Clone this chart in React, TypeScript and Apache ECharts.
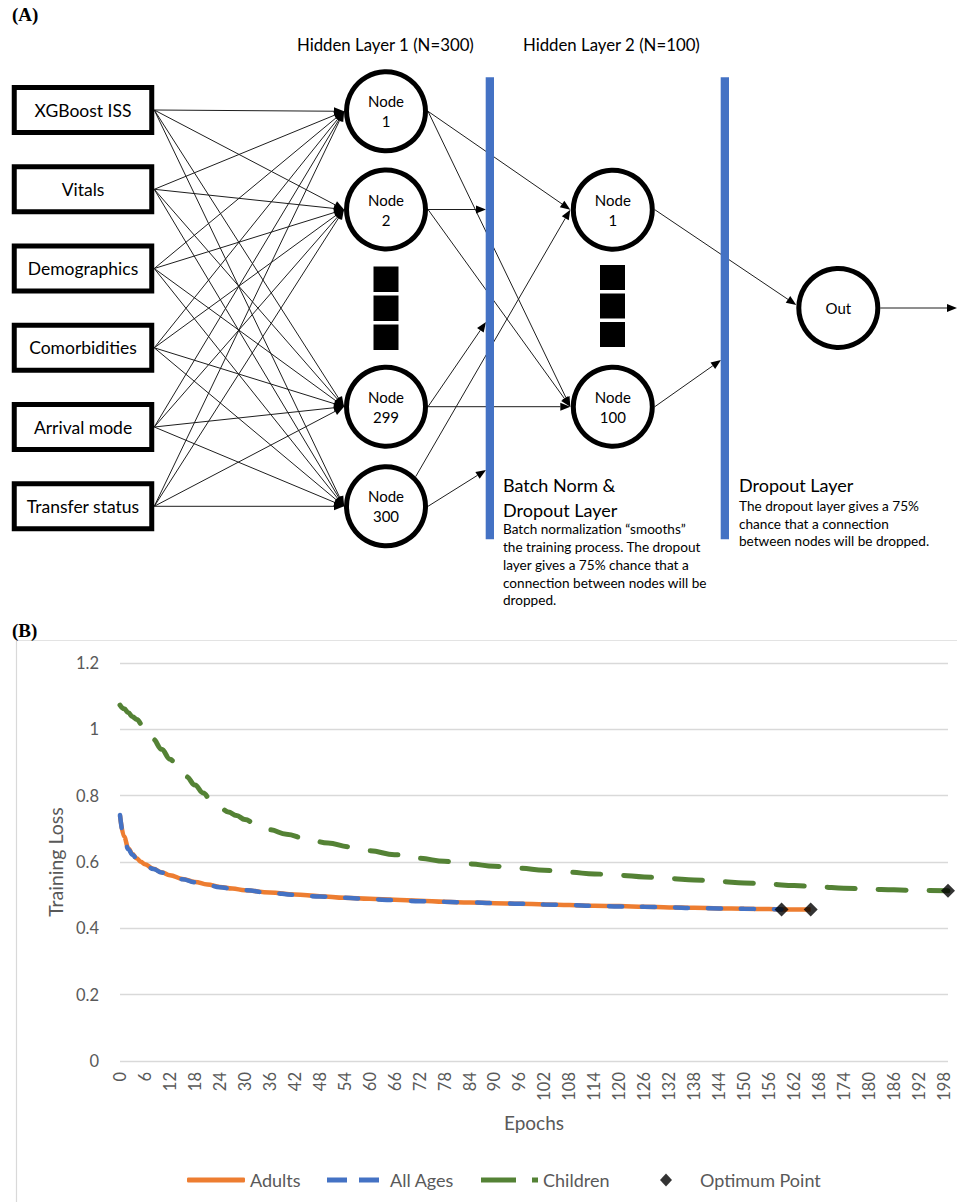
import React, { useEffect, useRef } from "react";
import * as echarts from "echarts";

// ---------------- DATA (panel B) ----------------
const epochCategories: string[] = Array.from({ length: 200 }, (_, i) => String(i));

const adultsEpochs = [0, 1, 2, 3, 4, 5, 6, 8, 10, 12, 15, 18, 21, 24, 27, 30, 36, 42, 48, 54, 60, 66, 72, 78, 84, 90, 96, 102, 108, 114, 120, 126, 132, 138, 144, 150, 156, 159, 162, 166];
const adultsLoss = [0.740, 0.676, 0.641, 0.624, 0.611, 0.601, 0.593, 0.580, 0.569, 0.560, 0.549, 0.540, 0.532, 0.525, 0.520, 0.515, 0.508, 0.502, 0.497, 0.492, 0.489, 0.486, 0.483, 0.480, 0.478, 0.476, 0.474, 0.472, 0.470, 0.468, 0.467, 0.465, 0.463, 0.462, 0.460, 0.459, 0.458, 0.457, 0.457, 0.457];

const allAgesEpochs = [0, 1, 2, 3, 4, 5, 6, 8, 10, 12, 15, 18, 21, 24, 27, 30, 36, 42, 48, 54, 60, 66, 72, 78, 84, 90, 96, 102, 108, 114, 120, 126, 132, 138, 144, 150, 156, 159];
const allAgesLoss = [0.742, 0.672, 0.638, 0.622, 0.610, 0.600, 0.592, 0.579, 0.568, 0.559, 0.548, 0.539, 0.531, 0.524, 0.519, 0.515, 0.507, 0.501, 0.496, 0.492, 0.488, 0.485, 0.482, 0.480, 0.478, 0.476, 0.474, 0.472, 0.470, 0.468, 0.466, 0.465, 0.463, 0.461, 0.460, 0.459, 0.458, 0.457];

const childrenEpochs = [0, 1, 2, 3, 4, 6, 8, 10, 12, 14, 16, 18, 20, 22, 24, 26, 28, 30, 33, 36, 40, 45, 50, 55, 60, 66, 72, 78, 84, 90, 96, 102, 108, 114, 120, 126, 132, 138, 144, 150, 156, 162, 168, 174, 180, 186, 192, 199];
const childrenLoss = [1.073, 1.062, 1.050, 1.038, 1.030, 1.000, 0.970, 0.940, 0.910, 0.884, 0.857, 0.832, 0.808, 0.783, 0.765, 0.751, 0.740, 0.728, 0.711, 0.697, 0.684, 0.669, 0.657, 0.646, 0.634, 0.622, 0.611, 0.602, 0.594, 0.587, 0.581, 0.575, 0.569, 0.564, 0.560, 0.555, 0.550, 0.546, 0.541, 0.537, 0.533, 0.529, 0.525, 0.521, 0.518, 0.516, 0.514, 0.513];

const optimumEpochs = [159, 166, 199];
const optimumLoss = [0.457, 0.457, 0.513];

const seriesNames = ["Adults", "All Ages", "Children", "Optimum Point"];

// ---------------- DIAGRAM CONTENT (panel A) ----------------
const inputLabels = ["XGBoost ISS", "Vitals", "Demographics", "Comorbidities", "Arrival mode", "Transfer status"];
const hidden1Labels = ["Node\n1", "Node\n2", "Node\n299", "Node\n300"];
const hidden2Labels = ["Node\n1", "Node\n100"];
const layerTitles = ["Hidden Layer 1 (N=300)", "Hidden Layer 2 (N=100)"];
const batchTitle = "Batch Norm &\nDropout Layer";
const batchText = "Batch normalization \u201csmooths\u201d\nthe training process. The dropout\nlayer gives a 75% chance that a\nconnection between nodes will be\ndropped.";
const dropTitle = "Dropout Layer";
const dropText = "The dropout layer gives a 75%\nchance that a connection\nbetween nodes will be dropped.";

const FONT = "Lato, 'Noto Sans', sans-serif";
const SERIF = "'Liberation Serif', 'DejaVu Serif', serif";

function txt(x: number, y: number, text: string, size: number, o: any = {}) {
  const align = o.align || "center";
  const valign = o.valign || "middle";
  return {
    type: "text",
    x,
    y,
    silent: true,
    z: 20,
    style: {
      text,
      font: `${o.bold ? "bold " : ""}${size}px ${o.family || FONT}`,
      fill: o.fill || "#000",
      textAlign: align,
      textVerticalAlign: valign,
      align,
      verticalAlign: valign,
      lineHeight: o.lh,
    },
  };
}

function buildDiagram() {
  const els: any[] = [];
  const lineCol = "#1e1e1e";
  const boxCx = 83, boxW = 137.5, boxH = 45;
  const boxYs = [110, 189.3, 268.5, 347.8, 427, 506.3];
  const boxRight = boxCx + boxW / 2 + 2.5;
  const h1x = 386, h1Ys = [111.3, 209.5, 406.7, 506.3];
  const h2x = 612.8, h2Ys = [209.7, 406.7];
  const outX = 838.3, outY = 308;
  const R = 39.5, ROUT = 42;
  const bar1 = 486, bar2 = 721, barTop = 77.3, barBot = 539.3;

  const arrowLine = (x1: number, y1: number, x2: number, y2: number) => {
    const dx = x2 - x1, dy = y2 - y1;
    const d = Math.hypot(dx, dy);
    const ux = dx / d, uy = dy / d;
    const L = 10, W = 8;
    const bx = x2 - ux * L, by = y2 - uy * L;
    els.push({ type: "line", silent: true, z: 1, shape: { x1, y1, x2: bx, y2: by }, style: { stroke: lineCol, lineWidth: 1 } });
    els.push({
      type: "polygon",
      silent: true,
      z: 2,
      shape: { points: [[x2, y2], [bx - uy * W / 2, by + ux * W / 2], [bx + uy * W / 2, by - ux * W / 2]] },
      style: { fill: "#000" },
    });
  };

  // input -> hidden 1
  boxYs.forEach((by) => h1Ys.forEach((ny) => arrowLine(boxRight, by, h1x - ROUT, ny)));

  const h1R = h1x + ROUT, h2L = h2x - ROUT - 0.5;
  arrowLine(h1R, h1Ys[0], h2L, h2Ys[0]);
  arrowLine(h1R, h1Ys[0], h2L, h2Ys[1]);
  arrowLine(h1R, h1Ys[1], bar1, h1Ys[1]);
  arrowLine(h1R, h1Ys[1], h2L, h2Ys[1]);
  arrowLine(h1R, h1Ys[2], bar1, 322);
  arrowLine(h1R, h1Ys[2], h2L, h2Ys[1]);
  arrowLine(h1R, h1Ys[3], bar1, 470);
  arrowLine(h1x + ROUT * 0.707, h1Ys[3] - ROUT * 0.707, h2L, h2Ys[0]);
  // hidden 2 -> out
  arrowLine(h2x + ROUT, h2Ys[0], outX - ROUT, outY - 3);
  arrowLine(h2x + ROUT, h2Ys[1], bar2, 360);
  arrowLine(outX + ROUT, outY, 957, outY);

  // input boxes
  boxYs.forEach((by, i) => {
    els.push({
      type: "rect", silent: true, z: 5,
      shape: { x: boxCx - boxW / 2, y: by - boxH / 2, width: boxW, height: boxH },
      style: { fill: "#fff", stroke: "#000", lineWidth: 5 },
    });
    els.push(txt(boxCx, by, inputLabels[i], 17.5));
  });

  // circles
  h1Ys.forEach((cy, i) => {
    els.push({ type: "circle", silent: true, z: 5, shape: { cx: h1x, cy, r: R }, style: { fill: "#fff", stroke: "#000", lineWidth: 5 } });
    els.push(txt(h1x, cy, hidden1Labels[i], 15, { lh: 20 }));
  });
  h2Ys.forEach((cy, i) => {
    els.push({ type: "circle", silent: true, z: 5, shape: { cx: h2x, cy, r: R }, style: { fill: "#fff", stroke: "#000", lineWidth: 5 } });
    els.push(txt(h2x, cy, hidden2Labels[i], 15, { lh: 20 }));
  });
  els.push({ type: "circle", silent: true, z: 5, shape: { cx: outX, cy: outY, r: R }, style: { fill: "#fff", stroke: "#000", lineWidth: 5 } });
  els.push(txt(outX, outY, "Out", 15));

  // ellipsis squares
  [266.5, 295.5, 324.5].forEach((y) =>
    els.push({ type: "rect", silent: true, z: 5, shape: { x: 373.5, y, width: 25, height: 25.5 }, style: { fill: "#000" } })
  );
  [265, 293.5, 322].forEach((y) =>
    els.push({ type: "rect", silent: true, z: 5, shape: { x: 600, y, width: 25, height: 25 }, style: { fill: "#000" } })
  );

  // blue layer bars
  [bar1, bar2].forEach((x) =>
    els.push({ type: "rect", silent: true, z: 6, shape: { x: x - 0.3, y: barTop, width: 8.3, height: barBot - barTop }, style: { fill: "#4472C4" } })
  );

  // texts
  els.push(txt(12, 14, "(A)", 19, { align: "left", bold: true, family: SERIF }));
  els.push(txt(12, 630, "(B)", 19, { align: "left", bold: true, family: SERIF }));
  els.push(txt(297, 44, layerTitles[0], 16.8, { align: "left" }));
  els.push(txt(523, 44, layerTitles[1], 16.8, { align: "left" }));
  els.push(txt(503, 472.8, batchTitle, 18, { align: "left", valign: "top", lh: 24.5 }));
  els.push(txt(503, 520.5, batchText, 13.6, { align: "left", valign: "top", lh: 17.75 }));
  els.push(txt(739, 472.8, dropTitle, 18, { align: "left", valign: "top", lh: 24.5 }));
  els.push(txt(739, 497.3, dropText, 13.6, { align: "left", valign: "top", lh: 17.5 }));

  // chart frame of panel B
  els.push({ type: "line", silent: true, z: 0, shape: { x1: 16.5, y1: 640.5, x2: 957, y2: 640.5 }, style: { stroke: "#e3e3e3", lineWidth: 1 } });
  els.push({ type: "line", silent: true, z: 0, shape: { x1: 16.5, y1: 640.5, x2: 16.5, y2: 1202 }, style: { stroke: "#d9d9d9", lineWidth: 1.2 } });
  return els;
}

const pairs = (xs: number[], ys: number[]) => xs.map((x, i) => [x, ys[i]]);

export default function App() {
  const ref = useRef<HTMLDivElement>(null);
  useEffect(() => {
    if (!ref.current) return;
    const chart = echarts.init(ref.current, undefined, { renderer: "svg" });
    const gray = "#595959";
    const legendText = { fontSize: 18, color: gray, fontFamily: FONT };
    const legendTop = 1166;
    const option: any = {
      animation: false,
      textStyle: { fontFamily: FONT },
      graphic: { elements: buildDiagram() },
      grid: { left: 120, right: 9, top: 663, bottom: 141, containLabel: false },
      xAxis: {
        type: "category",
        data: epochCategories,
        boundaryGap: false,
        axisLine: { show: false },
        axisTick: { show: false },
        splitLine: { show: false },
        axisLabel: { interval: 5, rotate: 90, fontSize: 16.5, color: gray, margin: 11, fontFamily: FONT },
        name: "Epochs",
        nameLocation: "middle",
        nameGap: 52,
        nameTextStyle: { fontSize: 19, color: gray, fontFamily: FONT },
      },
      yAxis: {
        type: "value",
        min: 0,
        max: 1.2,
        interval: 0.2,
        axisLine: { show: false },
        axisTick: { show: false },
        axisLabel: { fontSize: 16.5, color: gray, margin: 21, fontFamily: FONT },
        splitLine: { lineStyle: { color: "#d9d9d9", width: 1.3 } },
        name: "Training Loss",
        nameLocation: "middle",
        nameGap: 49,
        nameTextStyle: { fontSize: 19.5, color: gray, fontFamily: FONT },
      },
      legend: [
        { data: [{ name: seriesNames[0], icon: "roundRect" }], left: 182, top: legendTop, itemWidth: 58, itemHeight: 5, textStyle: legendText, selectedMode: false },
        { data: [{ name: seriesNames[1], icon: "path://M0,0h20v5h-20z M32,0h20v5h-20z" }], left: 322, top: legendTop, itemWidth: 52, itemHeight: 5, textStyle: { ...legendText, padding: [0, 0, 0, 6] }, selectedMode: false },
        { data: [{ name: seriesNames[2], icon: "path://M0,0h35v5h-35z M51,0h6v5h-6z" }], left: 476, top: legendTop, itemWidth: 57, itemHeight: 5, textStyle: legendText, selectedMode: false },
        { data: [{ name: seriesNames[3], icon: "diamond" }], left: 655, top: legendTop, itemWidth: 12, itemHeight: 13, textStyle: { ...legendText, padding: [0, 0, 0, 23] }, selectedMode: false },
      ],
      series: [
        {
          name: seriesNames[0], type: "line", data: pairs(adultsEpochs, adultsLoss),
          symbol: "none", smooth: 0.4, smoothMonotone: "x", color: "#ED7D31",
          lineStyle: { width: 4.5, color: "#ED7D31" }, z: 2,
        },
        {
          name: seriesNames[1], type: "line", data: pairs(allAgesEpochs, allAgesLoss),
          symbol: "none", smooth: 0.4, smoothMonotone: "x", color: "#4472C4",
          lineStyle: { width: 4.5, color: "#4472C4", type: [13, 20], cap: "round" }, z: 3,
        },
        {
          name: seriesNames[2], type: "line", data: pairs(childrenEpochs, childrenLoss),
          symbol: "none", smooth: 0.4, smoothMonotone: "x", color: "#548235",
          lineStyle: { width: 5, color: "#548235", type: [28, 23], cap: "round" }, z: 3,
        },
        {
          name: seriesNames[3], type: "scatter", data: pairs(optimumEpochs, optimumLoss),
          symbol: "diamond", symbolSize: 14, color: "#000", itemStyle: { color: "#000" }, z: 5,
        },
      ],
    };
    chart.setOption(option);
    return () => chart.dispose();
  }, []);
  return (
    <div
      ref={ref}
      style={{ position: "absolute", left: 0, top: 0, width: 957, height: 1202, background: "#fff" }}
    />
  );
}
